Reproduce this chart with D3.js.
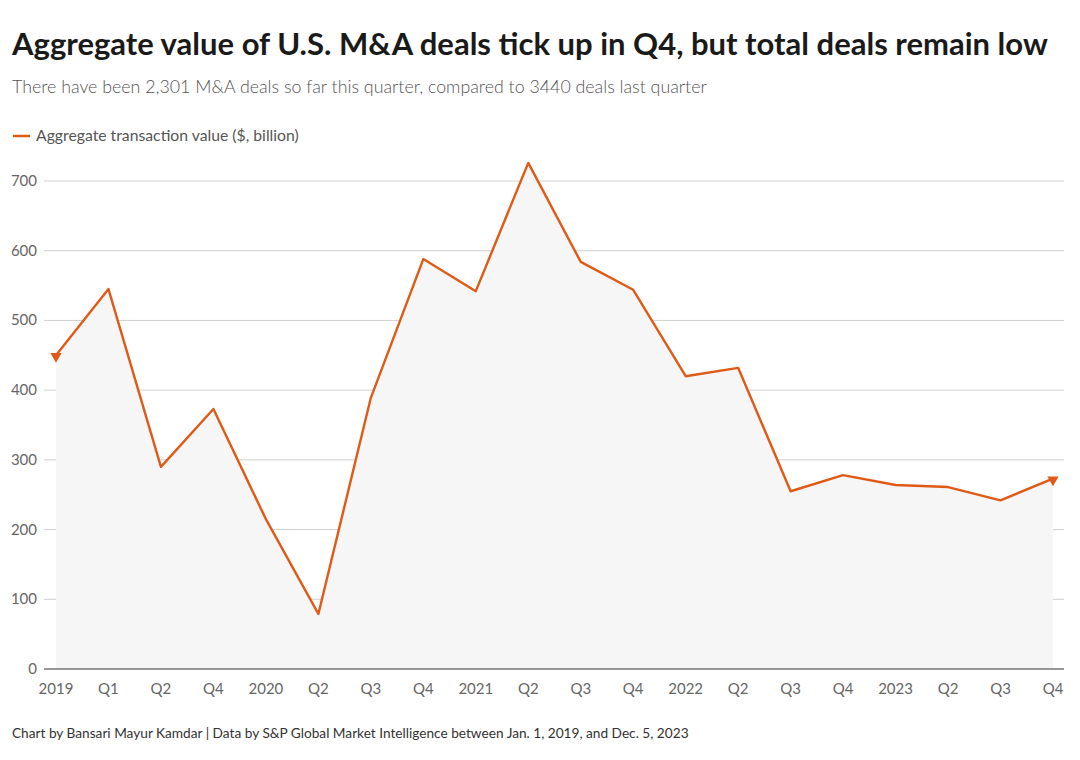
<!DOCTYPE html>
<html>
<head>
<meta charset="utf-8">
<script src="https://cdn.jsdelivr.net/npm/d3@7"></script>
<style>
  body { margin: 0; background: #fff; }
  svg { display: block; font-family: Lato, "Open Sans", sans-serif; }
</style>
</head>
<body>
<svg id="chart" width="1080" height="760"></svg>
<script>
const tickLabels = ["2019","Q1","Q2","Q4","2020","Q2","Q3","Q4","2021","Q2","Q3","Q4","2022","Q2","Q3","Q4","2023","Q2","Q3","Q4"];
const values = [450, 545, 290, 373, 215, 79, 389, 588, 542, 726, 584, 544, 420, 432, 255, 278, 264, 261, 242, 273];
const yTicks = [0, 100, 200, 300, 400, 500, 600, 700];

const titleText = "Aggregate value of U.S. M&A deals tick up in Q4, but total deals remain low";
const subtitleText = "There have been 2,301 M&A deals so far this quarter, compared to 3440 deals last quarter";
const legendText = "Aggregate transaction value ($, billion)";
const footerText = "Chart by Bansari Mayur Kamdar | Data by S&P Global Market Intelligence between Jan. 1, 2019, and Dec. 5, 2023";

const color = "#e05a17";
const svg = d3.select("#chart");

function fitText(sel, target) {
  const w = sel.node().getComputedTextLength();
  const fs = parseFloat(sel.attr("font-size"));
  sel.attr("font-size", fs * target / w);
}

const t = svg.append("text").attr("x", 12).attr("y", 55).attr("font-size", 30)
  .attr("font-weight", 700).attr("fill", "#1a1a1a").text(titleText);
fitText(t, 1036);
const st = svg.append("text").attr("x", 12).attr("y", 93).attr("font-size", 18)
  .attr("fill", "#555").attr("font-weight", 300).text(subtitleText);
fitText(st, 695);

// legend
svg.append("line").attr("x1", 13).attr("x2", 30).attr("y1", 136).attr("y2", 136)
  .attr("stroke", color).attr("stroke-width", 2.5);
const lg = svg.append("text").attr("x", 36).attr("y", 141).attr("font-size", 15)
  .attr("fill", "#555").text(legendText);
fitText(lg, 263);

const x = d3.scalePoint().domain(d3.range(values.length)).range([56, 1053]);
const y = d3.scaleLinear().domain([0, 700]).range([669, 181]);

// grid
const grid = svg.append("g");
grid.selectAll("line").data(yTicks.filter(d => d > 0)).join("line")
  .attr("x1", 44).attr("x2", 1064)
  .attr("y1", d => y(d)).attr("y2", d => y(d))
  .attr("stroke", "#cfcfcf").attr("stroke-width", 1);

// area
const area = d3.area().x((d, i) => x(i)).y0(y(0)).y1(d => y(d));
svg.append("path").datum(values).attr("d", area).attr("fill", "#f6f6f6");

// baseline
svg.append("line").attr("x1", 44).attr("x2", 1064).attr("y1", y(0)).attr("y2", y(0))
  .attr("stroke", "#333").attr("stroke-width", 1.2);

// y labels
svg.append("g").selectAll("text").data(yTicks).join("text")
  .attr("x", 37).attr("y", d => y(d) + 5).attr("text-anchor", "end")
  .attr("font-size", 15).attr("fill", "#666").text(d => d);

// x labels
svg.append("g").selectAll("text").data(tickLabels).join("text")
  .attr("x", (d, i) => x(i)).attr("y", 694).attr("text-anchor", "middle")
  .attr("font-size", 15).attr("fill", "#666").text(d => d);

const line = d3.line().x((d, i) => x(i)).y(d => y(d));
svg.append("path").datum(values).attr("d", line).attr("fill", "none")
  .attr("stroke", color).attr("stroke-width", 2.4).attr("stroke-linejoin", "round");

// end markers: downward triangles
const ends = [0, values.length - 1];
svg.append("g").selectAll("path").data(ends).join("path")
  .attr("d", d3.symbol().type(d3.symbolTriangle).size(55))
  .attr("transform", i => `translate(${x(i)},${y(values[i]) + 1}) rotate(180)`)
  .attr("fill", color);

const ft = svg.append("text").attr("x", 12).attr("y", 738).attr("font-size", 14)
  .attr("fill", "#333").text(footerText);
fitText(ft, 677);
</script>
</body>
</html>
